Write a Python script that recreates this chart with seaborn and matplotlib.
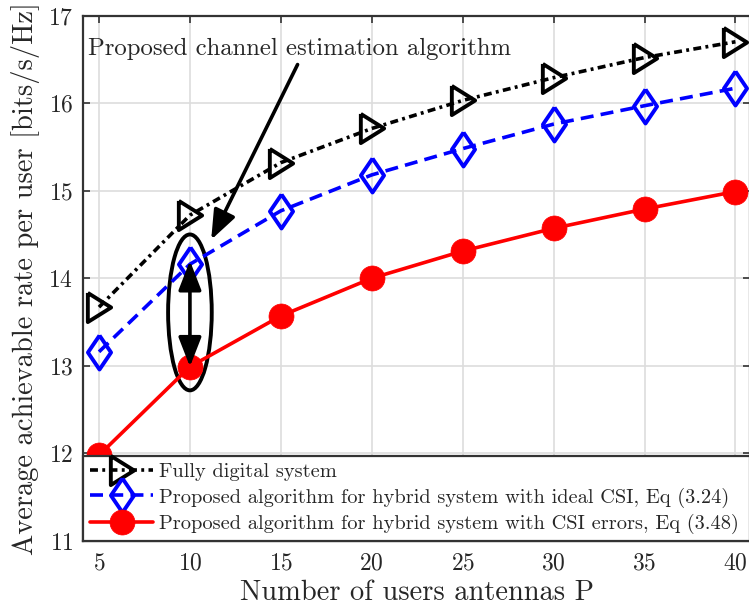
import numpy as np
import pandas as pd
import matplotlib
matplotlib.use("Agg")
import matplotlib.pyplot as plt
import seaborn as sns
from matplotlib.patches import Ellipse

# ---- data ----
users_antennas = [5, 10, 15, 20, 25, 30, 35, 40]
fully_digital = [13.67, 14.72, 15.32, 15.71, 16.03, 16.29, 16.52, 16.70]
hybrid_ideal = [13.16, 14.16, 14.77, 15.18, 15.48, 15.76, 15.97, 16.17]
hybrid_csi_err = [11.98, 12.99, 13.57, 14.00, 14.31, 14.57, 14.79, 14.99]

labels = ["Fully digital system",
          "Proposed algorithm for hybrid system with ideal CSI, Eq (3.24)",
          "Proposed algorithm for hybrid system with CSI errors, Eq (3.48)"]
xticks = [5, 10, 15, 20, 25, 30, 35, 40]
yticks = [11, 12, 13, 14, 15, 16, 17]

sns.set_style("ticks")
plt.rcParams['font.family'] = ['cmr10', 'DejaVu Serif']
plt.rcParams['axes.formatter.use_mathtext'] = True
plt.rcParams['mathtext.fontset'] = 'cm'

W, H = 749, 615
fig = plt.figure(figsize=(W / 100, H / 100), dpi=100)
ax_l, ax_r, ax_t, ax_b = 83, 750, 15.5, 541
ax = fig.add_axes([ax_l / W, (H - ax_b) / H, (ax_r - ax_l) / W, (ax_b - ax_t) / H])

tri = [(-0.8, 1), (0.8, 0), (-0.8, -1), (-0.8, 1)]
diamond = [(0, 1), (0.68, 0), (0, -1), (-0.68, 0), (0, 1)]
lw = 2.6

sns.lineplot(x=users_antennas, y=fully_digital, ax=ax, color='black',
             linewidth=lw, dashes=(2.2, 1.2, 0.8, 1.2), marker=tri,
             markersize=21, markerfacecolor='none', markeredgecolor='black',
             markeredgewidth=2.8, label=labels[0])
sns.lineplot(x=users_antennas, y=hybrid_ideal, ax=ax, color='blue',
             linewidth=lw, dashes=(3.6, 2.0), marker=diamond, markersize=24.5,
             markerfacecolor='none', markeredgecolor='blue',
             markeredgewidth=2.8, label=labels[1])
sns.lineplot(x=users_antennas, y=hybrid_csi_err, ax=ax, color='red',
             linestyle='-', linewidth=lw, marker='o', markersize=18,
             markerfacecolor='red', markeredgecolor='red',
             markeredgewidth=0.5, label=labels[2])

ax.set_xlim(4.12, 40.8)
ax.set_ylim(11, 17)
ax.set_xticks(xticks)
ax.set_yticks(yticks)
ax.grid(True, color='#dddddd', linewidth=1.2)
ax.set_axisbelow(True)
ax.tick_params(direction='in', top=True, right=True, labelsize=17,
               length=5, color='#333333', width=1.2)
ax.tick_params(axis='x', pad=8)
ax.tick_params(axis='y', pad=7)
for s in ax.spines.values():
    s.set_color('#333333')
    s.set_linewidth(1.6)

ax.set_xlabel("Number of users antennas P", fontsize=20.5, labelpad=4)
ax.set_ylabel("Average achievable rate per user [bits/s/Hz]", fontsize=20.5, labelpad=6)

leg = ax.legend(loc='lower left', bbox_to_anchor=(0, 0, 1, 0.2), mode='expand',
                fontsize=14.7, frameon=True, fancybox=False, borderaxespad=0,
                handlelength=3.1, labelspacing=0.3, borderpad=0.35,
                handletextpad=0.25)
leg.get_frame().set_edgecolor('#333333')
leg.get_frame().set_linewidth(1.6)
leg.get_frame().set_alpha(1)

# annotations
ax.text(4.38, 16.62, "Proposed channel estimation algorithm", fontsize=17.8,
        ha='left', va='center')
ax.annotate("", xy=(11.17, 14.44), xytext=(15.92, 16.44),
            arrowprops=dict(arrowstyle='-|>,head_length=0.9,head_width=0.35',
                            color='black', lw=2.6, mutation_scale=20,
                            shrinkA=0, shrinkB=0))
ell = Ellipse((10, 13.61), width=2.4, height=1.78, fill=False,
              edgecolor='black', linewidth=2.8)
ax.add_patch(ell)
ax.annotate("", xy=(10, 12.99), xytext=(10, 14.2),
            arrowprops=dict(arrowstyle='<|-|>,head_length=0.9,head_width=0.35',
                            color='black', lw=2.6, mutation_scale=20,
                            shrinkA=0, shrinkB=0))

fig.savefig("out.png", dpi=100)
